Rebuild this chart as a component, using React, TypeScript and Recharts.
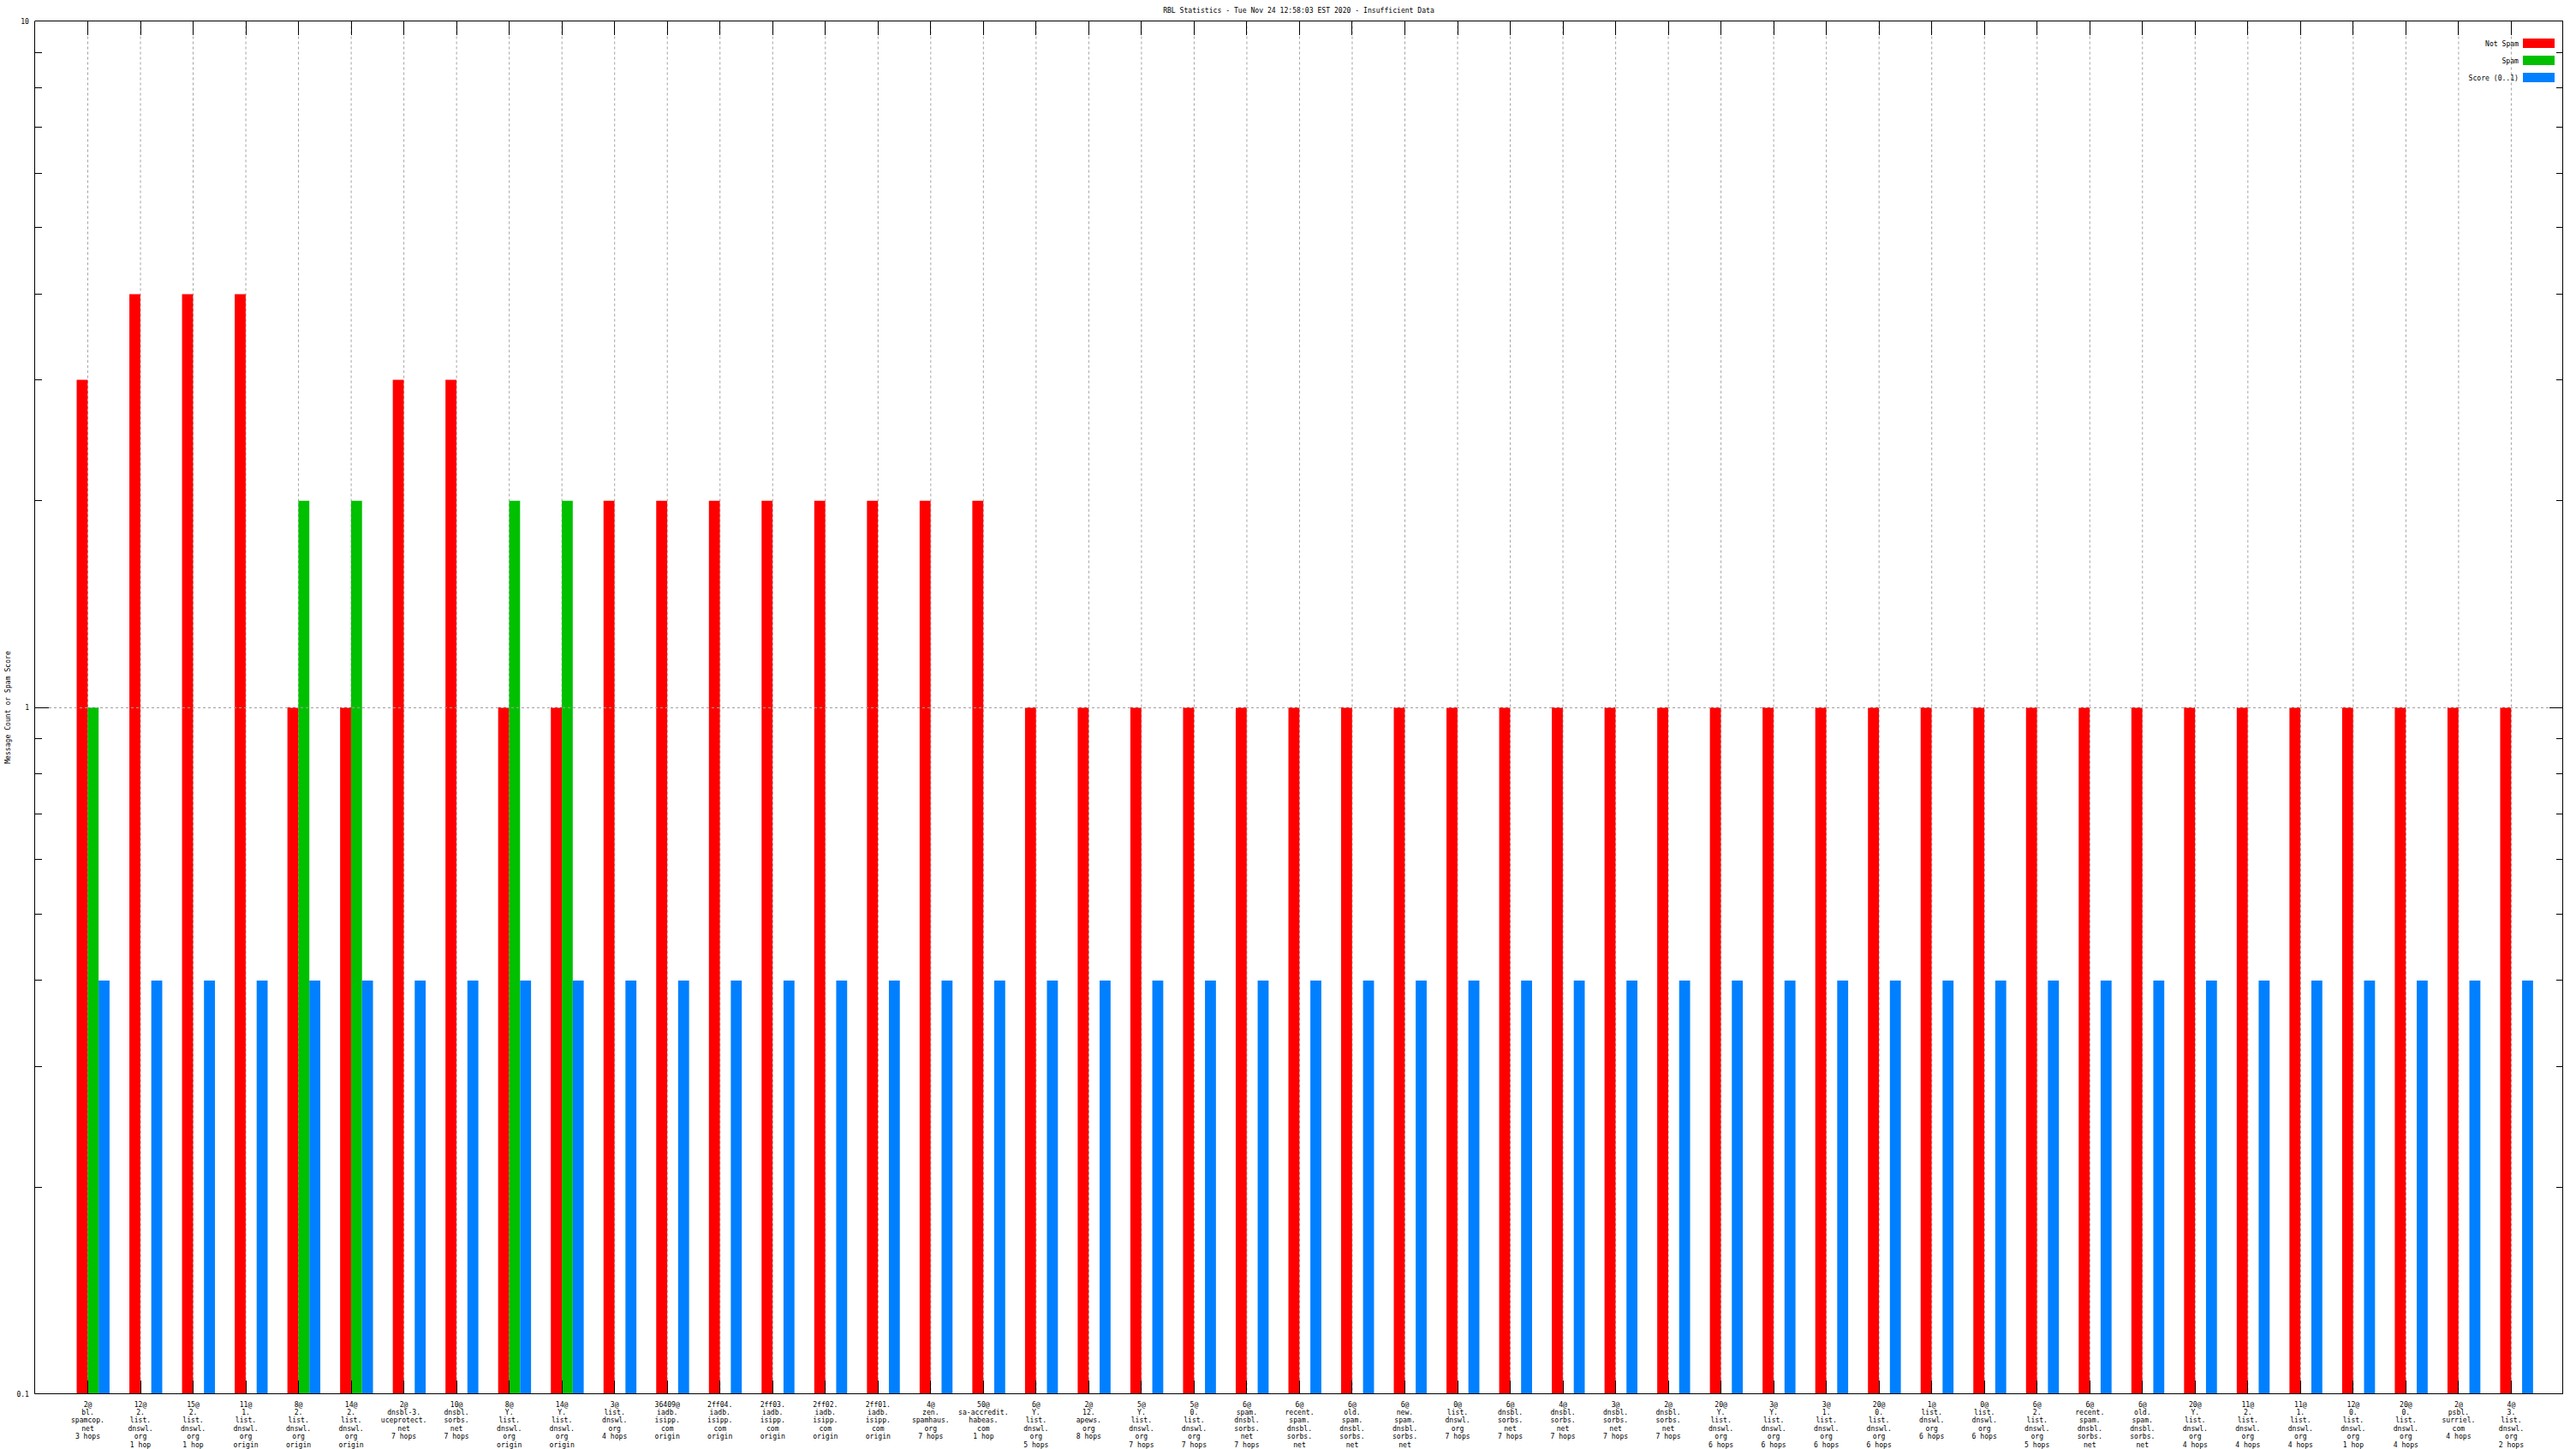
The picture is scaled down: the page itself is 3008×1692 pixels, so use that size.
import React from 'react';
import { BarChart, Bar, XAxis, YAxis, CartesianGrid, Legend, Label } from 'recharts';

// ---------- data ----------
const categories: string[] = [
  '2@\nbl.\nspamcop.\nnet\n3 hops',
  '12@\n2.\nlist.\ndnswl.\norg\n1 hop',
  '15@\n2.\nlist.\ndnswl.\norg\n1 hop',
  '11@\n1.\nlist.\ndnswl.\norg\norigin',
  '8@\n2.\nlist.\ndnswl.\norg\norigin',
  '14@\n2.\nlist.\ndnswl.\norg\norigin',
  '2@\ndnsbl-3.\nuceprotect.\nnet\n7 hops',
  '10@\ndnsbl.\nsorbs.\nnet\n7 hops',
  '8@\nY.\nlist.\ndnswl.\norg\norigin',
  '14@\nY.\nlist.\ndnswl.\norg\norigin',
  '3@\nlist.\ndnswl.\norg\n4 hops',
  '36409@\niadb.\nisipp.\ncom\norigin',
  '2ff04.\niadb.\nisipp.\ncom\norigin',
  '2ff03.\niadb.\nisipp.\ncom\norigin',
  '2ff02.\niadb.\nisipp.\ncom\norigin',
  '2ff01.\niadb.\nisipp.\ncom\norigin',
  '4@\nzen.\nspamhaus.\norg\n7 hops',
  '50@\nsa-accredit.\nhabeas.\ncom\n1 hop',
  '6@\nY.\nlist.\ndnswl.\norg\n5 hops',
  '2@\n12.\napews.\norg\n8 hops',
  '5@\nY.\nlist.\ndnswl.\norg\n7 hops',
  '5@\n0.\nlist.\ndnswl.\norg\n7 hops',
  '6@\nspam.\ndnsbl.\nsorbs.\nnet\n7 hops',
  '6@\nrecent.\nspam.\ndnsbl.\nsorbs.\nnet\n7 hops',
  '6@\nold.\nspam.\ndnsbl.\nsorbs.\nnet\n7 hops',
  '6@\nnew.\nspam.\ndnsbl.\nsorbs.\nnet\n7 hops',
  '0@\nlist.\ndnswl.\norg\n7 hops',
  '6@\ndnsbl.\nsorbs.\nnet\n7 hops',
  '4@\ndnsbl.\nsorbs.\nnet\n7 hops',
  '3@\ndnsbl.\nsorbs.\nnet\n7 hops',
  '2@\ndnsbl.\nsorbs.\nnet\n7 hops',
  '20@\nY.\nlist.\ndnswl.\norg\n6 hops',
  '3@\nY.\nlist.\ndnswl.\norg\n6 hops',
  '3@\n1.\nlist.\ndnswl.\norg\n6 hops',
  '20@\n0.\nlist.\ndnswl.\norg\n6 hops',
  '1@\nlist.\ndnswl.\norg\n6 hops',
  '0@\nlist.\ndnswl.\norg\n6 hops',
  '6@\n2.\nlist.\ndnswl.\norg\n5 hops',
  '6@\nrecent.\nspam.\ndnsbl.\nsorbs.\nnet\n5 hops',
  '6@\nold.\nspam.\ndnsbl.\nsorbs.\nnet\n5 hops',
  '20@\nY.\nlist.\ndnswl.\norg\n4 hops',
  '11@\n2.\nlist.\ndnswl.\norg\n4 hops',
  '11@\n1.\nlist.\ndnswl.\norg\n4 hops',
  '12@\n0.\nlist.\ndnswl.\norg\n1 hop',
  '20@\n0.\nlist.\ndnswl.\norg\n4 hops',
  '2@\npsbl.\nsurriel.\ncom\n4 hops',
  '4@\n3.\nlist.\ndnswl.\norg\n2 hops',
];

const notSpam: number[] = [
  3, 4, 4, 4, 1, 1, 3, 3, 1, 1, 2, 2, 2, 2, 2, 2, 2, 2,
  1, 1, 1, 1, 1, 1, 1, 1, 1, 1, 1, 1, 1, 1, 1, 1, 1, 1, 1, 1, 1, 1, 1, 1, 1, 1, 1, 1, 1,
];

const spam: (number | null)[] = [
  1, null, null, null, 2, 2, null, null, 2, 2, null, null, null, null, null, null, null, null,
  null, null, null, null, null, null, null, null, null, null, null, null, null, null, null, null,
  null, null, null, null, null, null, null, null, null, null, null, null, null,
];

const score: number[] = [
  0.4, 0.4, 0.4, 0.4, 0.4, 0.4, 0.4, 0.4, 0.4, 0.4, 0.4, 0.4, 0.4, 0.4, 0.4, 0.4, 0.4, 0.4,
  0.4, 0.4, 0.4, 0.4, 0.4, 0.4, 0.4, 0.4, 0.4, 0.4, 0.4, 0.4, 0.4, 0.4, 0.4, 0.4, 0.4, 0.4,
  0.4, 0.4, 0.4, 0.4, 0.4, 0.4, 0.4, 0.4, 0.4, 0.4, 0.4,
];

const seriesNames: string[] = ['Not Spam', 'Spam', 'Score (0..1)'];
const seriesColors: string[] = ['#ff0000', '#00c000', '#0080ff'];

const yTicks: number[] = [0.1, 0.2, 0.3, 0.4, 0.5, 0.6, 0.7, 0.8, 0.9, 1, 2, 3, 4, 5, 6, 7, 8, 9, 10];
const yTickLabels: Record<string, string> = { '0.1': '0.1', '1': '1', '10': '10' };
const yGridValues: number[] = [1];

const TITLE = 'RBL Statistics - Tue Nov 24 12:58:03 EST 2020 - Insufficient Data';
const Y_LABEL = 'Message Count or Spam Score';

// ---------- layout ----------
const W = 3008;
const H = 1692;
const MARGIN = { top: 24.5, right: 15.5, bottom: 0, left: 0.5 };
const Y_AXIS_W = 40;
const PLOT_LEFT = MARGIN.left + Y_AXIS_W;
const PLOT_RIGHT = W - MARGIN.right;
const PLOT_TOP = MARGIN.top;
const PLOT_BOTTOM = 1627.5;
const X_AXIS_H = H - MARGIN.bottom - PLOT_BOTTOM;
const FONT = "'DejaVu Sans Mono', 'Liberation Mono', monospace";
const FS = 8.1;
const GRID = '#a0a0a0';

const data = categories.map((label, i) => ({
  label,
  spacer: null as number | null,
  notSpam: notSpam[i],
  spam: spam[i],
  score: score[i],
}));

const YTick = (props: any) => {
  const { y, payload } = props;
  const v = payload.value as number;
  const lbl = yTickLabels[String(v)];
  const major = lbl !== undefined;
  const len = major ? 16 : 8;
  const isTop = v === 10;
  const edge = v === 0.1 || v === 10;
  return (
    <g>
      {yGridValues.includes(v) && (
        <line
          x1={PLOT_LEFT + len}
          x2={PLOT_RIGHT - len}
          y1={y}
          y2={y}
          stroke={GRID}
          strokeDasharray="3 3"
          shapeRendering="crispEdges"
        />
      )}
      {isTop && (
        <line x1={PLOT_LEFT} x2={PLOT_RIGHT} y1={y} y2={y} stroke="#000" shapeRendering="crispEdges" />
      )}
      {isTop && (
        <line x1={PLOT_RIGHT} x2={PLOT_RIGHT} y1={PLOT_TOP} y2={PLOT_BOTTOM} stroke="#000" shapeRendering="crispEdges" />
      )}
      {!edge && (
        <line x1={PLOT_LEFT} x2={PLOT_LEFT + len} y1={y} y2={y} stroke="#000" shapeRendering="crispEdges" />
      )}
      {!edge && (
        <line x1={PLOT_RIGHT - len} x2={PLOT_RIGHT} y1={y} y2={y} stroke="#000" shapeRendering="crispEdges" />
      )}
      {major && (
        <text x={PLOT_LEFT - 6.5} y={y + 3} textAnchor="end" fontFamily={FONT} fontSize={FS} fill="#000">
          {lbl}
        </text>
      )}
    </g>
  );
};

const XTick = (props: any) => {
  const { x, payload } = props;
  const lines = String(payload.value).split('\n');
  return (
    <g>
      <line x1={x} x2={x} y1={PLOT_BOTTOM} y2={PLOT_BOTTOM - 16} stroke="#000" shapeRendering="crispEdges" />
      <line x1={x} x2={x} y1={PLOT_TOP} y2={PLOT_TOP + 16} stroke="#000" shapeRendering="crispEdges" />
      <text textAnchor="middle" fontFamily={FONT} fontSize={FS} fill="#000">
        {lines.map((l, i) => (
          <tspan key={i} x={x} y={PLOT_BOTTOM + 15 + i * 9.4}>
            {l}
          </tspan>
        ))}
      </text>
    </g>
  );
};

const YLabel = () => {
  const cy = (PLOT_TOP + PLOT_BOTTOM) / 2;
  return (
    <text
      x={9}
      y={cy}
      transform={`rotate(-90 9 ${cy})`}
      textAnchor="middle"
      dominantBaseline="central"
      fontFamily={FONT}
      fontSize={FS}
      fill="#000"
    >
      {Y_LABEL}
    </text>
  );
};

const LegendContent = (props: any) => {
  const items = (props.payload || [])
    .filter((p: any) => p.type !== 'none' && seriesNames.includes(p.value))
    .sort((a: any, b: any) => seriesNames.indexOf(a.value) - seriesNames.indexOf(b.value));
  return (
    <div style={{ display: 'flex', flexDirection: 'column' }}>
      {items.map((p: any) => (
        <div
          key={p.value}
          style={{
            display: 'flex',
            justifyContent: 'flex-end',
            alignItems: 'center',
            height: 20,
            fontFamily: FONT,
            fontSize: FS,
            color: '#000',
          }}
        >
          <span>{p.value}</span>
          <span style={{ display: 'inline-block', width: 37, height: 11, marginLeft: 5, background: p.color }} />
        </div>
      ))}
    </div>
  );
};

export default function App() {
  return (
    <div style={{ position: 'absolute', left: 0, top: 0, width: W, height: H, background: '#fff' }}>
      <div
        style={{
          position: 'absolute',
          left: PLOT_LEFT,
          width: PLOT_RIGHT - PLOT_LEFT,
          top: 7,
          height: 10,
          lineHeight: '10px',
          textAlign: 'center',
          fontFamily: FONT,
          fontSize: FS,
          color: '#000',
          whiteSpace: 'pre',
        }}
      >
        {TITLE}
      </div>
      <BarChart
        width={W}
        height={H}
        data={data}
        margin={MARGIN}
        barSize={12.8}
        barGap={0}
      >
        <CartesianGrid horizontal={false} stroke={GRID} strokeDasharray="3 3" />
        <XAxis
          dataKey="label"
          type="category"
          interval={0}
          height={X_AXIS_H}
          padding={{ left: 31.24, right: 29.32 }}
          tick={<XTick />}
          tickLine={false}
          tickSize={0}
          axisLine={{ stroke: '#000' }}
        />
        <YAxis
          type="number"
          scale="log"
          domain={[0.1, 10]}
          allowDataOverflow
          ticks={yTicks}
          interval={0}
          width={Y_AXIS_W}
          tick={<YTick />}
          tickLine={false}
          tickSize={0}
          axisLine={{ stroke: '#000' }}
        >
          <Label content={<YLabel />} />
        </YAxis>
        <Legend
          layout="horizontal"
          verticalAlign="middle"
          align="center"
          content={<LegendContent />}
          wrapperStyle={{ position: 'absolute', top: 40.5, left: 2700, width: 283, height: 60 }}
        />
        <Bar dataKey="spacer" fill="none" legendType="none" isAnimationActive={false} />
        <Bar dataKey="notSpam" name={seriesNames[0]} fill={seriesColors[0]} isAnimationActive={false} />
        <Bar dataKey="spam" name={seriesNames[1]} fill={seriesColors[1]} isAnimationActive={false} />
        <Bar dataKey="score" name={seriesNames[2]} fill={seriesColors[2]} isAnimationActive={false} />
      </BarChart>
    </div>
  );
}
